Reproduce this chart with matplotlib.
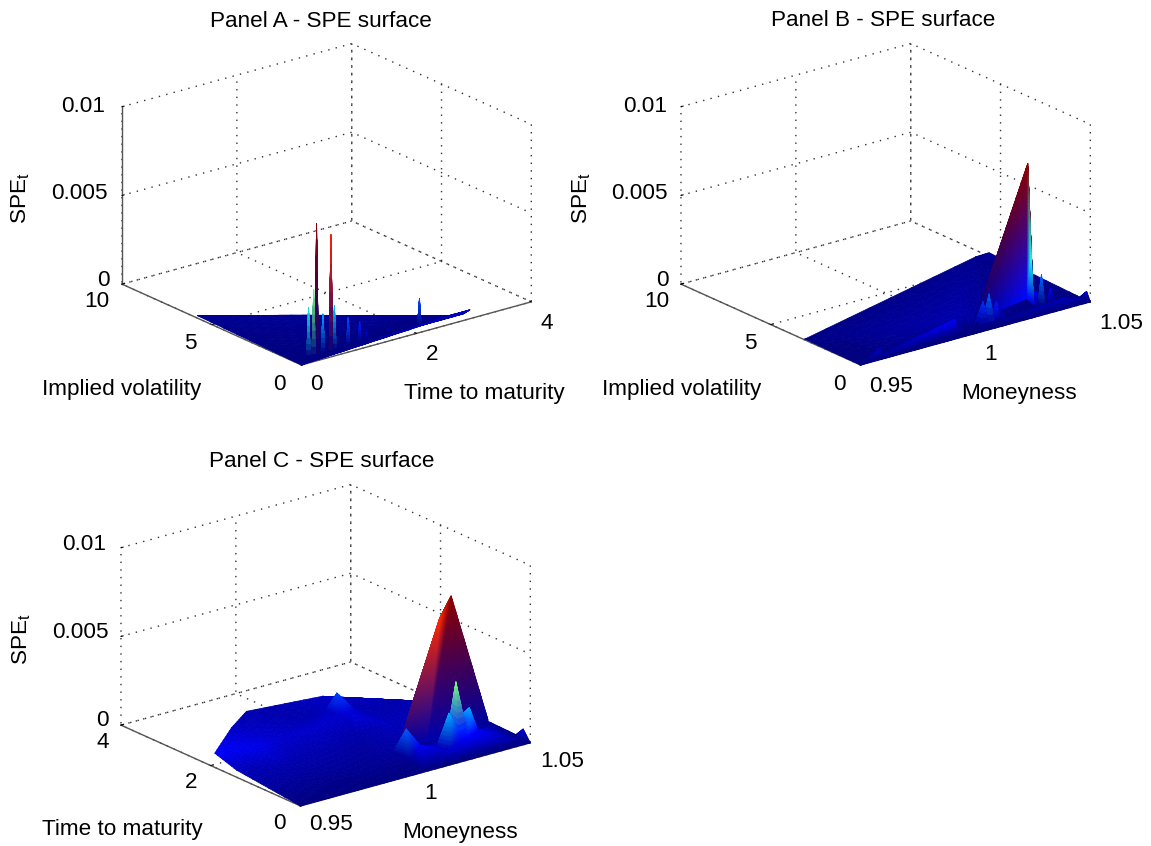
import numpy as np
import matplotlib
matplotlib.use("Agg")
import matplotlib.pyplot as plt
from matplotlib.text import Text
from matplotlib.tri import Triangulation, UniformTriRefiner, LinearTriInterpolator
from mpl_toolkits.mplot3d import proj3d

W, H = 1151, 846
plt.rcParams['font.family'] = ['Liberation Sans', 'DejaVu Sans']
plt.rcParams['mathtext.default'] = 'regular'
FS = 16.2

TIME_TICKS = [0, 2, 4]
VOL_TICKS = [0, 5, 10]
MONEY_TICKS = [0.95, 1, 1.05]
SPE_TICKS = [0, 0.005, 0.01]
SPE_TICKLABELS = ['0', '0.005', '0.01']
SPE_TOP = 0.0074

# Panel A: maturity / volatility
a_edge_time = [0.0, 0.0, 1.0, 2.0, 2.7, 2.85, 2.93]
a_edge_vol = [0.0, 5.8, 3.82, 1.84, 0.46, 0.1, 0.0]
a_edge_spe = [0.0, 0.00014, 0.00017, 0.00017, 0.00017, 0.0003, 0.0005]
a_row_time = [0.28, 0.31, 0.34, 0.37, 0.40, 0.425, 0.45, 0.475, 0.53, 0.56, 0.59, 0.67, 0.70, 0.73, 0.73, 0.76,
              0.79, 0.97, 1.0, 1.03, 1.17, 1.2, 1.23, 1.29, 1.32, 1.35, 1.67, 1.7, 1.73, 2.21, 2.24, 2.27]
a_row_spe = [0, 0.0027, 0, 0, 0.0036, 0, 0.0073, 0, 0, 0.0021, 0, 0, 0.00645, 0, 0, 0.0024,
             0, 0, 0.0015, 0, 0, 0.0011, 0, 0, 0.0005, 0, 0, 0.0003, 0, 0, 0.00147, 0]
a_row_vol = 0.6
a_side_time = [0.31, 0.40, 0.45, 0.56, 0.70, 0.76, 1.0, 1.2, 1.32, 1.7, 2.24]
a_side_vols = [0.5, 0.7]

# Panel B: moneyness / volatility
b_floor_money = [0.95, 0.95, 1.045, 1.05, 1.05,
                 1.0312, 1.0324, 1.0338, 1.035, 1.0362, 1.0377, 1.0389, 1.0401,
                 1.0324, 1.0324, 1.035, 1.035, 1.0389, 1.0389,
                 1.05, 1.0485, 1.05, 1.0485,
                 0.9934, 0.9922, 0.9946, 0.9934, 0.96, 0.958, 0.962, 0.96, 0.98, 1.0, 1.04, 1.045]
b_floor_vol = [0.0, 3.1, 5.74, 5.64, 0.0,
               0.8, 0.8, 0.8, 0.8, 0.8, 0.8, 0.8, 0.8,
               0.6, 1.0, 0.6, 1.0, 0.6, 1.0,
               0.2, 0.2, 0.5, 0.5,
               0.3, 0.3, 0.3, 0.6, 0.2, 0.2, 0.2, 0.5, 1.0, 1.2, 0.3, 0.2]
b_floor_spe = [0.0, 0.00005, 0.0001, 0.0002, 0.0,
               0.0, 0.0009, 0.0, 0.0017, 0.0, 0.0, 0.0008, 0.0,
               0.0, 0.0, 0.0, 0.0, 0.0, 0.0,
               0.0005, 0.0, 0.0, 0.0,
               0.0009, 0.0, 0.0, 0.0, 0.0005, 0.0, 0.0, 0.0, 0.0002, 0.0003, 0.0004, 0.0003]
b_tent_money = [1.0384, 1.0064, 1.0243, 1.0284, 1.0278, 1.0376, 1.045]
b_tent_vol = [2.0, 0.85, 0.24, 0.54, 0.3, 1.6, 4.2]
b_tent_spe = [0.0073, 0.0001, 0.001, 0.0028, 0.0005, 0.0002, 0.0]
b_tent_faces = [(0, 1, 2), (0, 2, 3), (2, 4, 3), (0, 3, 5), (3, 4, 5), (0, 5, 6), (0, 6, 1)]
b_front_money = [1.005, 1.0072, 1.0085, 1.0098, 1.011, 1.012, 1.0131, 1.0145, 1.016]
b_front_row_spe = [0.0003, 0.0013, 0.0003, 0.00164, 0.0003, 0.0003, 0.0011, 0.0003, 0.0003]
b_front_row_vol = 0.5
b_front_side_vols = [0.35, 0.65]
b_front_side_spe = 0.0002

# Panel C: moneyness / maturity
c_floor_money = [0.95, 0.95, 0.95, 0.9735, 0.989, 1.017, 1.0408, 1.05, 1.05,
                 1.0127, 1.0095, 1.016, 1.0095, 1.017, 1.0127, 1.0015, 1.022,
                 0.98, 0.995, 0.97, 0.99, 1.005, 1.02, 0.97, 0.99, 0.965,
                 1.05, 1.048, 1.05, 1.048, 1.045]
c_floor_time = [0.0, 1.42, 1.91, 2.74, 3.2, 2.94, 2.1, 1.8, 0.0,
                2.4, 2.5, 2.45, 2.2, 2.2, 2.1, 2.54, 2.2,
                2.0, 2.0, 1.2, 1.4, 1.6, 1.4, 0.4, 0.4, 1.8,
                0.16, 0.16, 0.32, 0.04, 0.6]
c_floor_spe = [0.0, 0.0004, 0.0008, 0.00045, 0.0003, 0.00045, 0.0003, 0.0002, 0.0,
               0.0014, 0.0004, 0.0004, 0.0005, 0.0005, 0.0006, 0.0003, 0.0003,
               0.0005, 0.0005, 0.0003, 0.0003, 0.0003, 0.0004, 0.0001, 0.0001, 0.0007,
               0.0006, 0.0001, 0.0001, 0.0001, 0.0002]
c_tent_money = [1.039, 1.032, 1.0093, 1.0202, 1.05, 1.0408, 1.05]
c_tent_time = [1.2, 1.1, 0.86, 0.78, 0.94, 2.1, 1.8]
c_tent_spe = [0.0073, 0.0064, 0.0002, 0.0003, 0.0002, 0.0003, 0.0002]
c_tent_faces = [(0, 3, 4), (0, 1, 3), (1, 2, 3), (1, 2, 5), (0, 1, 5), (0, 5, 6), (0, 6, 4)]
c_front_money = [1.005, 1.005, 1.048, 1.048,
                 1.027, 1.025, 1.029, 1.027,
                 1.0224, 1.0313, 1.01, 1.0077, 1.025, 1.029, 1.035, 1.038, 1.027, 1.02,
                 1.0245, 1.029, 1.034, 1.018, 1.006, 1.012, 1.0077]
c_front_time = [0.08, 0.76, 0.76, 0.08,
                0.48, 0.52, 0.52, 0.62,
                0.4, 0.4, 0.4, 0.6, 0.32, 0.36, 0.4, 0.48, 0.24, 0.24,
                0.44, 0.44, 0.5, 0.45, 0.4, 0.55, 0.72]
c_front_spe = [0.0001, 0.0002, 0.0002, 0.0001,
               0.0037, 0.0016, 0.0016, 0.0003,
               0.0022, 0.0022, 0.0008, 0.0016, 0.0012, 0.0012, 0.0008, 0.0006, 0.0008, 0.0004,
               0.0014, 0.0014, 0.0003, 0.0004, 0.0002, 0.0003, 0.0002]

ELEV, AZIM = 20.6, -128.0
BOX = (1, 1, 0.65)
RIGHT_SPAN = 229.8
SLOT = 620


def surface(ax, x, y, z, xlim, ylim, subdiv, faces, order):
    x, y, z = (np.asarray(a, float) for a in (x, y, z))
    dx, dy = xlim[1] - xlim[0], ylim[1] - ylim[0]
    base = Triangulation((x - xlim[0]) / dx, (y - ylim[0]) / dy, faces)
    ref = UniformTriRefiner(base)
    cols = plt.get_cmap('jet')(np.clip(z / SPE_TOP, 0, 1))[:, :3]
    fine, zf = ref.refine_field(z, LinearTriInterpolator(base, z), subdiv)
    chans = [np.asarray(ref.refine_field(cols[:, i], LinearTriInterpolator(base, cols[:, i]), subdiv)[1])
             for i in range(3)]
    rgb = np.clip(np.column_stack(chans), 0, 1)
    tri = Triangulation(xlim[0] + fine.x * dx, ylim[0] + fine.y * dy, fine.triangles)
    surf = ax.plot_trisurf(tri, np.asarray(zf), shade=False, linewidth=0.55, antialiased=True, zorder=order)
    fc = rgb[fine.triangles].mean(axis=1)
    surf.set_facecolor(fc)
    surf.set_edgecolor(fc)


def to_px(ax, x, y, z):
    px, py, _ = proj3d.proj_transform(x, y, z, ax.get_proj())
    return ax.transData.transform((px, py))


def pin(ax, text, px, py):
    xy = tuple(ax.transData.inverted().transform((px, H - py - 1.5)))
    text.set_position = lambda _xy, t=text, p=xy: Text.set_position(t, p)
    Text.set_position(text, xy)


def panel(title, xticks, yticks, xlim, ylim, xlabel, ylabel, sheets, front, title_px,
          xlabel_px, ylabel_px, zlabel_px, xtick_px, ytick_px, ztick_px, solid_z):
    ax = fig.add_axes([(front[0] - SLOT / 2) / W, (H - front[1]) / H, SLOT / W, SLOT / H],
                      projection='3d', proj_type='ortho', computed_zorder=False)
    ax.set_facecolor('none')
    for order, (x, y, z, faces, subdiv) in enumerate(sheets):
        surface(ax, x, y, z, xlim, ylim, subdiv, faces, order + 2)
    ax.set_xlim(*xlim)
    ax.set_ylim(*ylim)
    ax.set_zlim(0, 0.01)
    ax.view_init(elev=ELEV, azim=AZIM)
    ax.set_box_aspect(BOX, zoom=1)
    ax.apply_aspect()
    a = to_px(ax, xlim[0], ylim[0], 0)
    b = to_px(ax, xlim[1], ylim[0], 0)
    ax.set_box_aspect(BOX, zoom=RIGHT_SPAN / (b[0] - a[0]))
    a = to_px(ax, xlim[0], ylim[0], 0)
    pos = ax.get_position()
    ax.set_position([pos.x0 + (front[0] - a[0]) / W, pos.y0 + ((H - front[1]) - a[1]) / H, pos.width, pos.height])
    ax.apply_aspect()

    ax.set_xticks(xticks)
    ax.set_yticks(yticks)
    ax.set_zticks(SPE_TICKS)
    ax.set_xticklabels([f'{v:g}' for v in xticks])
    ax.set_yticklabels([f'{v:g}' for v in yticks])
    ax.set_zticklabels(SPE_TICKLABELS)
    ax.tick_params(axis='both', labelsize=FS)
    ax.tick_params(axis='z', labelsize=FS)
    for axis, spots, ha in ((ax.xaxis, xtick_px, 'center'), (ax.yaxis, ytick_px, 'center'), (ax.zaxis, ztick_px, 'right')):
        for t, spot in zip(axis.get_major_ticks(), spots):
            t.label1.set_ha(ha)
            t.label1.set_va('center')
            pin(ax, t.label1, *spot)

    for axis in (ax.xaxis, ax.yaxis, ax.zaxis):
        axis.set_pane_color((1, 1, 1, 0))
        axis.pane.set_edgecolor((1, 1, 1, 0))
        axis._axinfo['grid'].update(color='#333333', linewidth=1.0, linestyle=(0, (1, 4.5)))
        axis._axinfo['tick'].update(inward_factor=0.0, outward_factor=0.12, linewidth={True: 0.7, False: 0.5},
                                    color='#333333')
        axis.line.set_color('#555555')
        axis.line.set_linewidth(1.0)
        axis.set_rotate_label(False)
    if not solid_z:
        ax.zaxis.line.set_visible(False)

    ax.set_xlabel(xlabel, fontsize=FS, rotation=0)
    ax.set_ylabel(ylabel, fontsize=FS, rotation=0)
    ax.set_zlabel('SPE$_t$', fontsize=FS, rotation=90)
    pin(ax, ax.xaxis.label, *xlabel_px)
    pin(ax, ax.yaxis.label, *ylabel_px)
    pin(ax, ax.zaxis.label, *zlabel_px)

    ax.set_title(title, fontsize=FS, pad=0, va='center', y=0.5)
    pos = ax.get_position()
    ax.title.set_position(((title_px[0] / W - pos.x0) / pos.width, ((H - title_px[1] - 1) / H - pos.y0) / pos.height))
    return ax


fig = plt.figure(figsize=(W / 100, H / 100), dpi=100, facecolor='white')

a_x = a_edge_time + a_row_time + a_side_time * len(a_side_vols)
a_y = a_edge_vol + [a_row_vol] * len(a_row_time) + [v for v in a_side_vols for _ in a_side_time]
a_z = a_edge_spe + a_row_spe + [0.0] * (len(a_side_time) * len(a_side_vols))

bf_x = b_front_money * (1 + len(b_front_side_vols))
bf_y = [b_front_row_vol] * len(b_front_money) + [v for v in b_front_side_vols for _ in b_front_money]
bf_z = b_front_row_spe + [b_front_side_spe] * (len(b_front_money) * len(b_front_side_vols))

panel('Panel A - SPE surface', TIME_TICKS, VOL_TICKS, (0, 4), (0, 10),
      'Time to maturity', 'Implied volatility',
      [(a_x, a_y, a_z, None, 3)],
      (301.5, 365), (321, 20), (484, 392), (122, 388), (21, 197),
      [(316, 383), (432, 353), (547, 322)], [(279, 383), (190.5, 342), (97, 300)],
      [(110, 279), (108, 192), (105.5, 104.5)], True)
panel('Panel B - SPE surface', MONEY_TICKS, VOL_TICKS, (0.95, 1.05), (0, 10),
      'Moneyness', 'Implied volatility',
      [(b_floor_money, b_floor_vol, b_floor_spe, None, 3),
       (b_tent_money, b_tent_vol, b_tent_spe, b_tent_faces, 5),
       (bf_x, bf_y, bf_z, None, 2)],
      (860.5, 365), (883, 20), (1019, 392), (682, 388), (582, 197),
      [(891.5, 385), (990.5, 353), (1121, 322)], [(839, 383), (750.5, 342), (656.5, 300)],
      [(668.5, 279), (668, 192), (666.7, 104.5)], False)
panel('Panel C - SPE surface', MONEY_TICKS, TIME_TICKS, (0.95, 1.05), (0, 4),
      'Moneyness', 'Time to maturity',
      [(c_floor_money, c_floor_time, c_floor_spe, None, 3),
       (c_tent_money, c_tent_time, c_tent_spe, c_tent_faces, 5),
       (c_front_money, c_front_time, c_front_spe, None, 3)],
      (300.5, 806), (322, 460), (460, 831), (122, 828), (22, 638),
      [(331.5, 823), (431, 792), (562.5, 760)], [(279, 822), (191, 781), (102.5, 741)],
      [(109, 719), (108.3, 631), (106.4, 543)], False)

fig.savefig('out.png', dpi=100, facecolor='white')
